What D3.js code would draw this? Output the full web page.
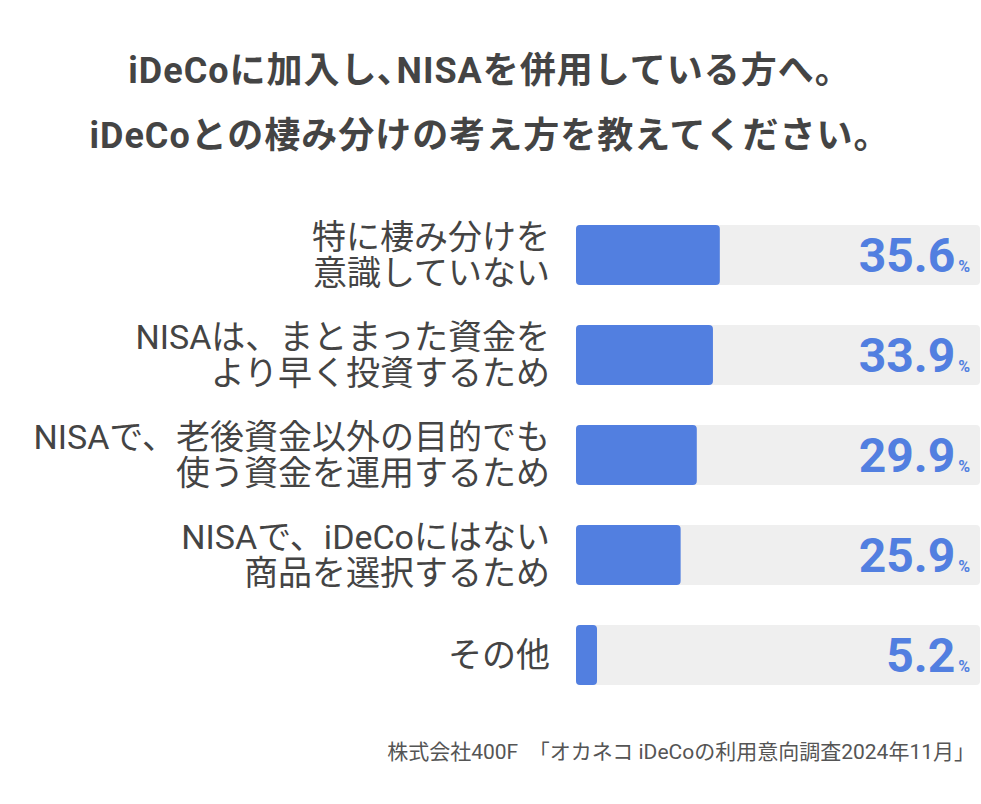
<!DOCTYPE html>
<html><head><meta charset="utf-8">
<script src="https://cdn.jsdelivr.net/npm/d3@7"></script>
<style>body{margin:0;background:#fff}text{font-family:Roboto,"Noto Sans CJK JP",sans-serif}</style>
</head><body><svg id="c" width="981" height="804"></svg>
<script>
const titleLines = ['iDeCoに加入し､NISAを併用している方へ。', 'iDeCoとの棲み分けの考え方を教えてください。'];
const labels = [
  ['特に棲み分けを', '意識していない'],
  ['NISAは、まとまった資金を', 'より早く投資するため'],
  ['NISAで、老後資金以外の目的でも', '使う資金を運用するため'],
  ['NISAで、iDeCoにはない', '商品を選択するため'],
  ['その他']
];
const values = [35.6, 33.9, 29.9, 25.9, 5.2];
const source = '株式会社400F　「オカネコ iDeCoの利用意向調査2024年11月」';

const svg = d3.select('#c');
svg.selectAll('text.title').data(titleLines).join('text')
  .attr('x', 490).attr('y', (d, i) => 83 + i * 65)
  .attr('text-anchor', 'middle').attr('font-size', 36).attr('font-weight', 700)
  .attr('letter-spacing', 1).attr('fill', '#444').text(d => d);

const x = d3.scaleLinear().domain([0, 100]).range([576, 980]);
const y = d3.scaleBand().domain(d3.range(values.length)).range([205, 705]).paddingInner(0.4).paddingOuter(0.2);

const rows = svg.selectAll('g.row').data(values).join('g').attr('class', 'row')
  .attr('transform', (d, i) => `translate(0,${y(i)})`);
const bh = y.bandwidth();
rows.append('rect').attr('x', x(0)).attr('width', x(100) - x(0)).attr('height', bh)
  .attr('rx', 4).attr('fill', '#efefef');
rows.append('rect').attr('x', x(0)).attr('width', d => x(d) - x(0)).attr('height', bh)
  .attr('rx', 4).attr('fill', '#527fe0');
const vt = rows.append('text').attr('x', 970).attr('y', bh / 2 + 17).attr('text-anchor', 'end')
  .attr('fill', '#527fe0').attr('font-weight', 700);
vt.append('tspan').attr('font-size', 48).text(d => d.toFixed(1));
vt.append('tspan').attr('font-size', 16).attr('dx', 3).text('%');

rows.each(function(d, i) {
  const g = d3.select(this), ls = labels[i];
  g.selectAll('text.lab').data(ls).join('text')
    .attr('x', 550).attr('text-anchor', 'end').attr('font-size', 34).attr('fill', '#444')
    .attr('y', (t, j) => bh / 2 + 12 + (j - (ls.length - 1) / 2) * 36).text(t => t);
});

svg.append('text').attr('x', 975).attr('y', 759).attr('text-anchor', 'end')
  .attr('font-size', 21).attr('fill', '#555').text(source);
</script></body></html>
